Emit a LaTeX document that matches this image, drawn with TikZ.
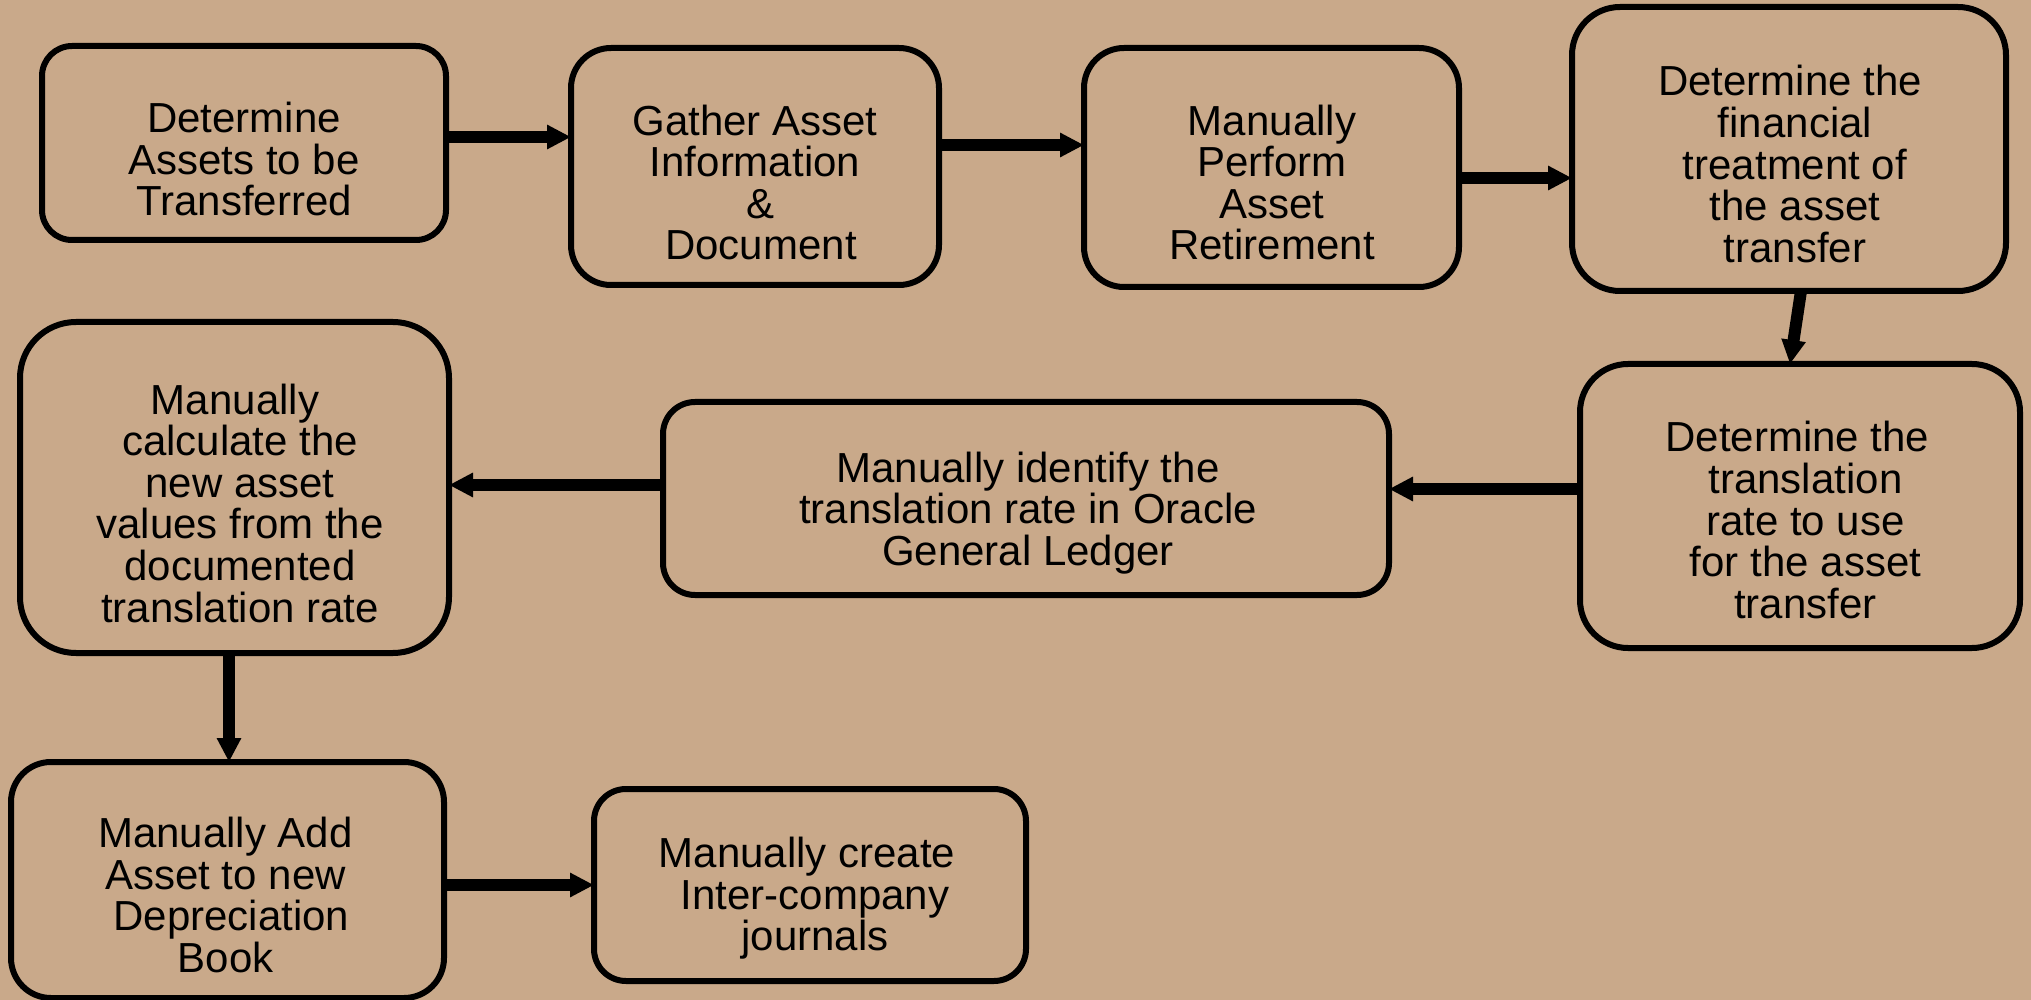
\documentclass[tikz,border=0pt]{standalone}
\usepackage{fontspec}
\setmainfont{Liberation Sans}
\usetikzlibrary{arrows.meta}
\definecolor{bg}{RGB}{201,169,138}
\begin{document}
\begin{tikzpicture}[x=0.5pt,y=-0.5pt,
  box/.style={draw=black, line width=3pt, fill=bg, inner sep=0pt, outer sep=0pt},
  lbl/.style={align=center, font=\fontsize{21}{20.8}\selectfont, inner sep=0pt},
  flow/.style={line width=6pt, -{Triangle[width=11.5pt,length=12pt]}}]
\useasboundingbox (0,0) rectangle (2031,1000);
\fill[bg] (0,0) rectangle (2031,1000);

% boxes
\node[box, minimum width=202pt, minimum height=97pt, rounded corners=15pt] (b1) at (244,143) {};
\node[box, minimum width=184pt, minimum height=118.5pt, rounded corners=20pt] (b2) at (755,166.5) {};
\node[box, minimum width=187.5pt, minimum height=119.5pt, rounded corners=20pt] (b3) at (1271.5,167.5) {};
\node[box, minimum width=217pt, minimum height=142pt, rounded corners=24pt] (b4) at (1789,149) {};
\node[box, minimum width=220pt, minimum height=142pt, rounded corners=24pt] (b5) at (1800,506) {};
\node[box, minimum width=363pt, minimum height=96.5pt, rounded corners=16pt] (b6) at (1026,498.5) {};
\node[box, minimum width=214.5pt, minimum height=165.5pt, rounded corners=28pt] (b7) at (234.5,487.5) {};
\node[box, minimum width=216.5pt, minimum height=118pt, rounded corners=20pt] (b8) at (227.5,880) {};
\node[box, minimum width=216pt, minimum height=96pt, rounded corners=16pt] (b9) at (810,885) {};

% labels
\node[lbl] (t1) at (244,159) {Determine\\Assets to be\\Transferred};
\node[lbl] (t2) at (755,182.5) {Gather Asset\\Information\\\hspace*{6pt}\&\\\hspace*{6pt}Document};
\node[lbl] (t3) at (1272,182.5) {Manually\\Perform\\Asset\\Retirement};
\node[lbl] (t4) at (1790,164) {Determine the\\\hspace*{5pt}financial\\\hspace*{5pt}treatment of\\\hspace*{5pt}the asset\\\hspace*{5pt}transfer};
\node[lbl] (t5) at (1797.5,520) {Determine the\\\hspace*{8pt}translation\\\hspace*{8pt}rate to use\\\hspace*{8pt}for the asset\\\hspace*{8pt}transfer};
\node[lbl] (t6) at (1028,513) {Manually identify the\\translation rate in Oracle\\General Ledger};
\node[lbl] (t7) at (240,503) {Manually\hspace*{5pt}\\calculate the\\new asset\\values from the\\documented\\translation rate};
\node[lbl] (t8) at (225.5,895) {Manually Add\\Asset to new\\\hspace*{6pt}Depreciation\\Book};
\node[lbl] (t9) at (807,898.5) {Manually create\\\hspace*{8pt}Inter-company\\\hspace*{8pt}journals};

% connector levels
\coordinate (y12) at (0,137);
\coordinate (y23) at (0,145);
\coordinate (y34) at (0,178);
\coordinate (y56) at (0,489);
\coordinate (y67) at (0,485);
\coordinate (x78) at (229,0);
\coordinate (y89) at (0,885);

\draw[flow] (b1.east |- y12) -- (b2.west |- y12);
\draw[flow] (b2.east |- y23) -- (b3.west |- y23);
\draw[flow] (b3.east |- y34) -- (b4.west |- y34);
\draw[flow] ([xshift=6pt]b4.south) -- ([xshift=-5pt]b5.north);
\draw[flow] (b5.west |- y56) -- (b6.east |- y56);
\draw[flow] (b6.west |- y67) -- (b7.east |- y67);
\draw[flow] (b7.south -| x78) -- (b8.north -| x78);
\draw[flow] (b8.east |- y89) -- (b9.west |- y89);
\end{tikzpicture}
\end{document}
